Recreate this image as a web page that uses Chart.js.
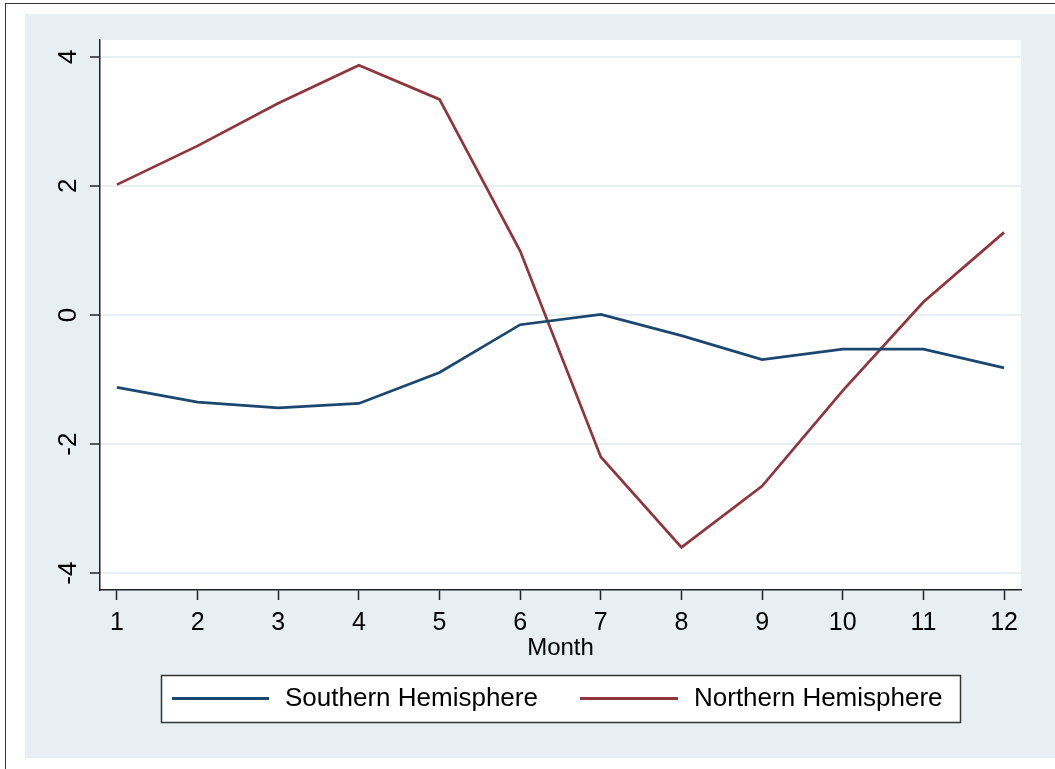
<!DOCTYPE html>
<html>
<head>
<meta charset="utf-8">
<script src="https://cdn.jsdelivr.net/npm/chart.js@4.4.1/dist/chart.umd.min.js"></script>
<style>
  html, body { margin: 0; padding: 0; background: #fff; }
  canvas { display: block; }
</style>
</head>
<body>
<canvas id="chart" width="1055" height="769"></canvas>
<script>
// monthly anomalies by hemisphere
const months = [1, 2, 3, 4, 5, 6, 7, 8, 9, 10, 11, 12];
const southern = [-1.12, -1.35, -1.44, -1.37, -0.89, -0.15, 0.01, -0.32, -0.69, -0.53, -0.53, -0.82];
const northern = [2.02, 2.62, 3.28, 3.87, 3.34, 0.99, -2.20, -3.60, -2.65, -1.17, 0.20, 1.28];
const yTicks = [-4, -2, 0, 2, 4];
const seriesNames = ['Southern Hemisphere', 'Northern Hemisphere'];

const FONT = 'Arial, "Liberation Sans", sans-serif';
const PANEL = '#e8eff2';
const AXIS = '#222';

// outer frame, tinted panel and white plot region
const backdrop = {
    id: 'backdrop',
    beforeDraw(chart) {
        const c = chart.ctx, a = chart.chartArea;
        c.save();
        c.fillStyle = '#fff';
        c.fillRect(0, 0, chart.width, chart.height);
        c.strokeStyle = '#333';
        c.lineWidth = 1;
        c.strokeRect(5.5, 3.5, chart.width + 10, chart.height + 10);
        c.fillStyle = PANEL;
        c.fillRect(25, 14, chart.width - 25, 744);
        c.fillStyle = '#fff';
        c.fillRect(a.left, a.top, a.right - a.left, a.bottom - a.top);
        c.restore();
    }
};

// boxed legend under the axis title
const boxLegend = {
    id: 'boxLegend',
    afterDraw(chart) {
        const c = chart.ctx;
        const y = 698.5;
        const slots = [{ x0: 172, x1: 269, tx: 285 }, { x0: 580, x1: 678, tx: 694 }];
        c.save();
        c.fillStyle = '#fff';
        c.fillRect(161.5, 675.5, 799, 47);
        c.strokeStyle = '#333';
        c.lineWidth = 1.5;
        c.strokeRect(161.5, 675.5, 799, 47);
        chart.data.datasets.forEach((ds, i) => {
            const s = slots[i];
            c.strokeStyle = ds.borderColor;
            c.lineWidth = 3;
            c.beginPath();
            c.moveTo(s.x0, y);
            c.lineTo(s.x1, y);
            c.stroke();
            c.fillStyle = '#000';
            c.font = '26px ' + FONT;
            c.textBaseline = 'middle';
            c.textAlign = 'left';
            c.fillText(ds.label, s.tx, y);
        });
        c.restore();
    }
};

const toPoints = vals => months.map((m, i) => ({ x: m, y: vals[i] }));

new Chart(document.getElementById('chart').getContext('2d'), {
    type: 'line',
    data: {
        datasets: [
            { label: seriesNames[0], data: toPoints(southern), borderColor: '#1a476f', borderWidth: 2.7, pointRadius: 0, tension: 0 },
            { label: seriesNames[1], data: toPoints(northern), borderColor: '#90353b', borderWidth: 2.7, pointRadius: 0, tension: 0 }
        ]
    },
    options: {
        responsive: false,
        animation: false,
        layout: { padding: { left: 0, right: 34, top: 40, bottom: 0 } },
        plugins: { legend: { display: false }, tooltip: { enabled: false } },
        scales: {
            x: {
                type: 'linear',
                min: 0.79,
                max: 12.21,
                afterBuildTicks: s => { s.ticks = months.map(v => ({ value: v })); },
                afterFit: s => { s.height = 179; },
                grid: { drawOnChartArea: false, drawTicks: true, tickLength: 10, tickColor: AXIS, tickWidth: 1.5 },
                border: { color: AXIS, width: 1.5 },
                ticks: { color: '#000', font: { family: FONT, size: 25 }, padding: 8, maxRotation: 0, autoSkip: false },
                title: { display: true, text: 'Month', color: '#000', font: { family: FONT, size: 24 }, padding: { top: 0, bottom: 106 } }
            },
            y: {
                type: 'linear',
                min: -4.26,
                max: 4.26,
                afterBuildTicks: s => { s.ticks = yTicks.map(v => ({ value: v })); },
                afterFit: s => { s.width = 100; },
                grid: { color: PANEL, lineWidth: 2, drawTicks: true, tickLength: 10, tickColor: AXIS, tickWidth: 1.5 },
                border: { color: AXIS, width: 1.5 },
                ticks: { color: '#000', font: { family: FONT, size: 26 }, padding: 10, minRotation: 90, maxRotation: 90, crossAlign: 'center' }
            }
        }
    },
    plugins: [backdrop, boxLegend]
});
</script>
</body>
</html>
